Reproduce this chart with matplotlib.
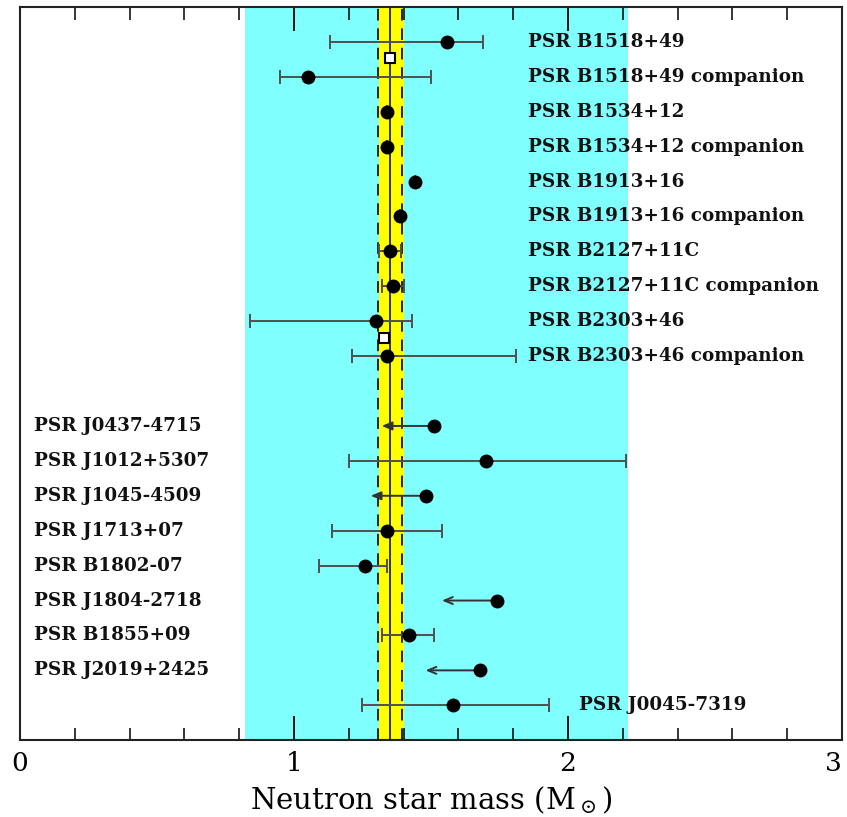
import matplotlib
matplotlib.use('Agg')
import matplotlib.pyplot as plt
from matplotlib.ticker import MultipleLocator

plt.rcParams['mathtext.fontset'] = 'dejavuserif'

# double neutron star systems (measured masses with error ranges)
dns_names = ['PSR B1518+49', 'PSR B1518+49 companion',
             'PSR B1534+12', 'PSR B1534+12 companion',
             'PSR B1913+16', 'PSR B1913+16 companion',
             'PSR B2127+11C', 'PSR B2127+11C companion',
             'PSR B2303+46', 'PSR B2303+46 companion']
dns_rows = [0, 1, 2, 3, 4, 5, 6, 7, 8, 9]
dns_mass = [1.56, 1.05, 1.339, 1.339, 1.441, 1.387, 1.349, 1.363, 1.30, 1.34]
dns_lo = [1.13, 0.95, 1.339, 1.339, 1.441, 1.387, 1.31, 1.32, 0.84, 1.21]
dns_hi = [1.69, 1.50, 1.339, 1.339, 1.441, 1.387, 1.39, 1.40, 1.43, 1.81]

# total-mass markers between the pairs
tot_rows = [0.47, 8.48]
tot_mass = [1.35, 1.33]

# neutron star - white dwarf binaries with error bars
wd_names = ['PSR J1012+5307', 'PSR J1713+07', 'PSR B1802-07', 'PSR B1855+09']
wd_rows = [12, 14, 15, 17]
wd_mass = [1.70, 1.34, 1.26, 1.42]
wd_lo = [1.20, 1.14, 1.09, 1.32]
wd_hi = [2.21, 1.54, 1.34, 1.51]

# systems with limit arrows
lim_names = ['PSR J0437-4715', 'PSR J1045-4509', 'PSR J1804-2718', 'PSR J2019+2425']
lim_rows = [11, 13, 16, 18]
lim_mass = [1.51, 1.48, 1.74, 1.68]
lim_tip = [1.32, 1.28, 1.54, 1.48]
lim_style = ['-|>', '-|>', '->', '->']

# SMC pulsar
smc_name = 'PSR J0045-7319'
smc_row = 19
smc_mass = 1.58
smc_lo = 1.25
smc_hi = 1.93

cyan_range = (0.82, 2.22)
yellow_range = (1.31, 1.40)
mean_mass = 1.35
dashed_mass = [1.305, 1.395]

fig = plt.figure(figsize=(8.47, 8.17), dpi=100, facecolor='white')
ax = fig.add_axes([0.0236, 0.094, 0.9705, 0.8975])

ax.axvspan(*cyan_range, color='#80FFFF', zorder=0, lw=0)
ax.axvspan(*yellow_range, color='#FFFF00', zorder=1, lw=0)
ax.axvline(mean_mass, color='#333333', lw=1.4, zorder=2)
for m in dashed_mass:
    ax.axvline(m, color='#222222', lw=1.4, ls=(0, (6, 4)), zorder=2)

err_kw = dict(fmt='o', color='black', ms=9, ecolor='#505050',
              elinewidth=1.4, capsize=5, capthick=1.4, zorder=4)

dns_err = [[m - l for m, l in zip(dns_mass, dns_lo)],
           [h - m for m, h in zip(dns_mass, dns_hi)]]
ax.errorbar(dns_mass, dns_rows, xerr=dns_err, **err_kw)

wd_err = [[m - l for m, l in zip(wd_mass, wd_lo)],
          [h - m for m, h in zip(wd_mass, wd_hi)]]
ax.errorbar(wd_mass, wd_rows, xerr=wd_err, **err_kw)

ax.errorbar([smc_mass], [smc_row], xerr=[[smc_mass - smc_lo], [smc_hi - smc_mass]], **err_kw)

ax.plot(tot_mass, tot_rows, 's', ms=7, mfc='white', mec='black', mew=1.5, zorder=4)

for m, t, r, st in zip(lim_mass, lim_tip, lim_rows, lim_style):
    ax.annotate('', xy=(t, r), xytext=(m, r),
                arrowprops=dict(arrowstyle=st + ',head_length=0.6,head_width=0.25',
                                color='#333333', lw=1.4, shrinkA=0, shrinkB=0),
                zorder=3)
    ax.plot(m, r, 'o', color='black', ms=9, zorder=4)

label_kw = dict(fontsize=13.2, fontfamily='DejaVu Serif', fontweight='bold',
                va='center', ha='left', color='#111111', zorder=5)
for name, r in zip(dns_names, dns_rows):
    ax.text(1.855, r, name, **label_kw)
left_names = lim_names + wd_names
left_rows = lim_rows + wd_rows
for name, r in zip(left_names, left_rows):
    ax.text(0.05, r, name, **label_kw)
ax.text(2.04, smc_row, smc_name, **label_kw)

ax.set_xlim(0, 3)
ax.set_ylim(20.0, -1.0)
ax.set_xticks([0, 1, 2, 3], labels=['0', '1', '2', '3'])
ax.xaxis.set_minor_locator(MultipleLocator(0.2))
ax.tick_params(axis='x', which='major', direction='in', length=17, width=1.3,
               top=True, bottom=True, labelsize=19, pad=8)
ax.tick_params(axis='x', which='minor', direction='in', length=9, width=1.1,
               top=True, bottom=True)
ax.set_yticks([])
ticklabels = ax.get_xticklabels()
for lab in ticklabels:
    lab.set_fontfamily('DejaVu Serif')
# keep the "3" inside the figure
ticklabels[-1].set_horizontalalignment('right')
for sp in ax.spines.values():
    sp.set_linewidth(1.5)
    sp.set_color('#222222')

ax.set_xlabel(r'Neutron star mass (M$_\odot$)', fontsize=21,
              fontfamily='DejaVu Serif', labelpad=6)

fig.savefig('out.png', dpi=100, facecolor='white')
